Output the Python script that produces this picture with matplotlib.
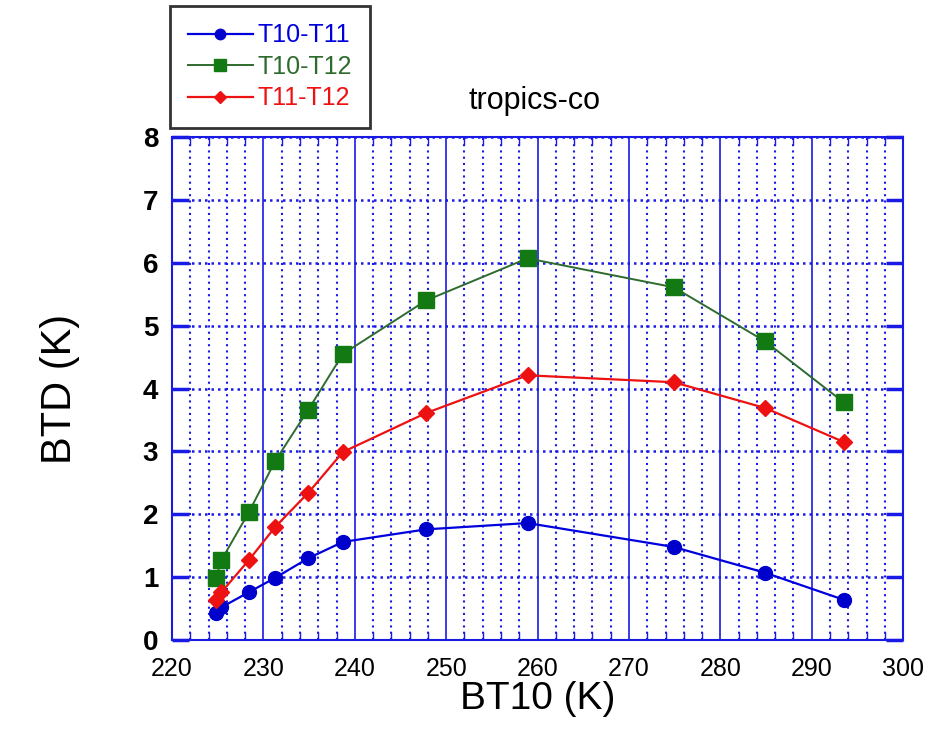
import matplotlib
matplotlib.use("Agg")
import matplotlib.pyplot as plt
from matplotlib.ticker import MultipleLocator

plt.rcParams["font.family"] = ["Liberation Sans", "DejaVu Sans"]

# BT10 (K) values
bt10 = [224.8, 225.4, 228.4, 231.3, 234.9, 238.7, 247.8, 258.9, 274.9, 284.9, 293.5]
t10_t11 = [0.43, 0.52, 0.76, 0.99, 1.30, 1.56, 1.76, 1.86, 1.48, 1.07, 0.64]
t10_t12 = [0.99, 1.27, 2.03, 2.85, 3.66, 4.55, 5.40, 6.07, 5.61, 4.75, 3.78]
t11_t12 = [0.64, 0.76, 1.27, 1.80, 2.34, 2.99, 3.61, 4.21, 4.10, 3.69, 3.15]

xticks = [220, 230, 240, 250, 260, 270, 280, 290, 300]
yticks = [0, 1, 2, 3, 4, 5, 6, 7, 8]

grid_col = "#1a1ae6"

fig = plt.figure(figsize=(9.38, 7.37), dpi=100)
fig.patch.set_facecolor("white")
ax = fig.add_axes([0.1834, 0.1316, 0.7794, 0.6825])

l1, = ax.plot(bt10, t10_t11, color="#0000dd", lw=1.6, marker="o", ms=10,
              mfc="#0000cc", mec="#0000cc", label="T10-T11", zorder=5)
l2, = ax.plot(bt10, t10_t12, color="#2e6b2e", lw=1.4, marker="s", ms=11,
              mfc="#137a13", mec="#137a13", label="T10-T12", zorder=5)
l3, = ax.plot(bt10, t11_t12, color="#ee1111", lw=1.6, marker="D", ms=8,
              mfc="#ee1111", mec="#ee1111", label="T11-T12", zorder=5)

ax.set_xlim(220, 300)
ax.set_ylim(0, 8)
ax.set_xticks(xticks)
ax.set_yticks(yticks)
ax.xaxis.set_minor_locator(MultipleLocator(2))

# grids: solid major verticals, dotted minors and horizontals
ax.grid(which="major", axis="x", color=grid_col, lw=1.2, ls="-")
ax.grid(which="minor", axis="x", color=grid_col, lw=1.5, ls=(0, (1, 2)))
ax.grid(which="major", axis="y", color=grid_col, lw=1.8, ls=(0, (1, 1.6)))
ax.set_axisbelow(True)

for s in ax.spines.values():
    s.set_color(grid_col)
    s.set_linewidth(1.5)

ax.tick_params(which="both", direction="in", colors=grid_col, top=True, right=True,
               labelcolor="black")
ax.tick_params(which="major", axis="x", length=0)
ax.tick_params(which="minor", axis="x", length=6, width=1)
ax.tick_params(which="major", axis="y", length=12, width=2.5)
ax.tick_params(axis="x", labelsize=18, pad=12)
ax.tick_params(axis="y", labelsize=20, pad=10)
for lab in ax.get_yticklabels():
    lab.set_fontweight("bold")

ax.set_xlabel("BT10 (K)", fontsize=28, labelpad=0)
ax.set_ylabel("BTD (K)", fontsize=30, labelpad=45)

fig.text(0.570, 0.863, "tropics-co", fontsize=22, ha="center", va="center")

leg = fig.legend(handles=[l1, l2, l3], loc="upper left",
                 bbox_to_anchor=(0.168, 1.009), fontsize=18, frameon=True,
                 fancybox=False, edgecolor="black", handlelength=2.6,
                 handletextpad=0.2, labelspacing=0.3, borderpad=0.7,
                 markerscale=0.75)
leg.get_frame().set_linewidth(2)
for txt, ln in zip(leg.get_texts(), [l1, l2, l3]):
    txt.set_color(ln.get_color())

fig.savefig("out.png", dpi=100)
